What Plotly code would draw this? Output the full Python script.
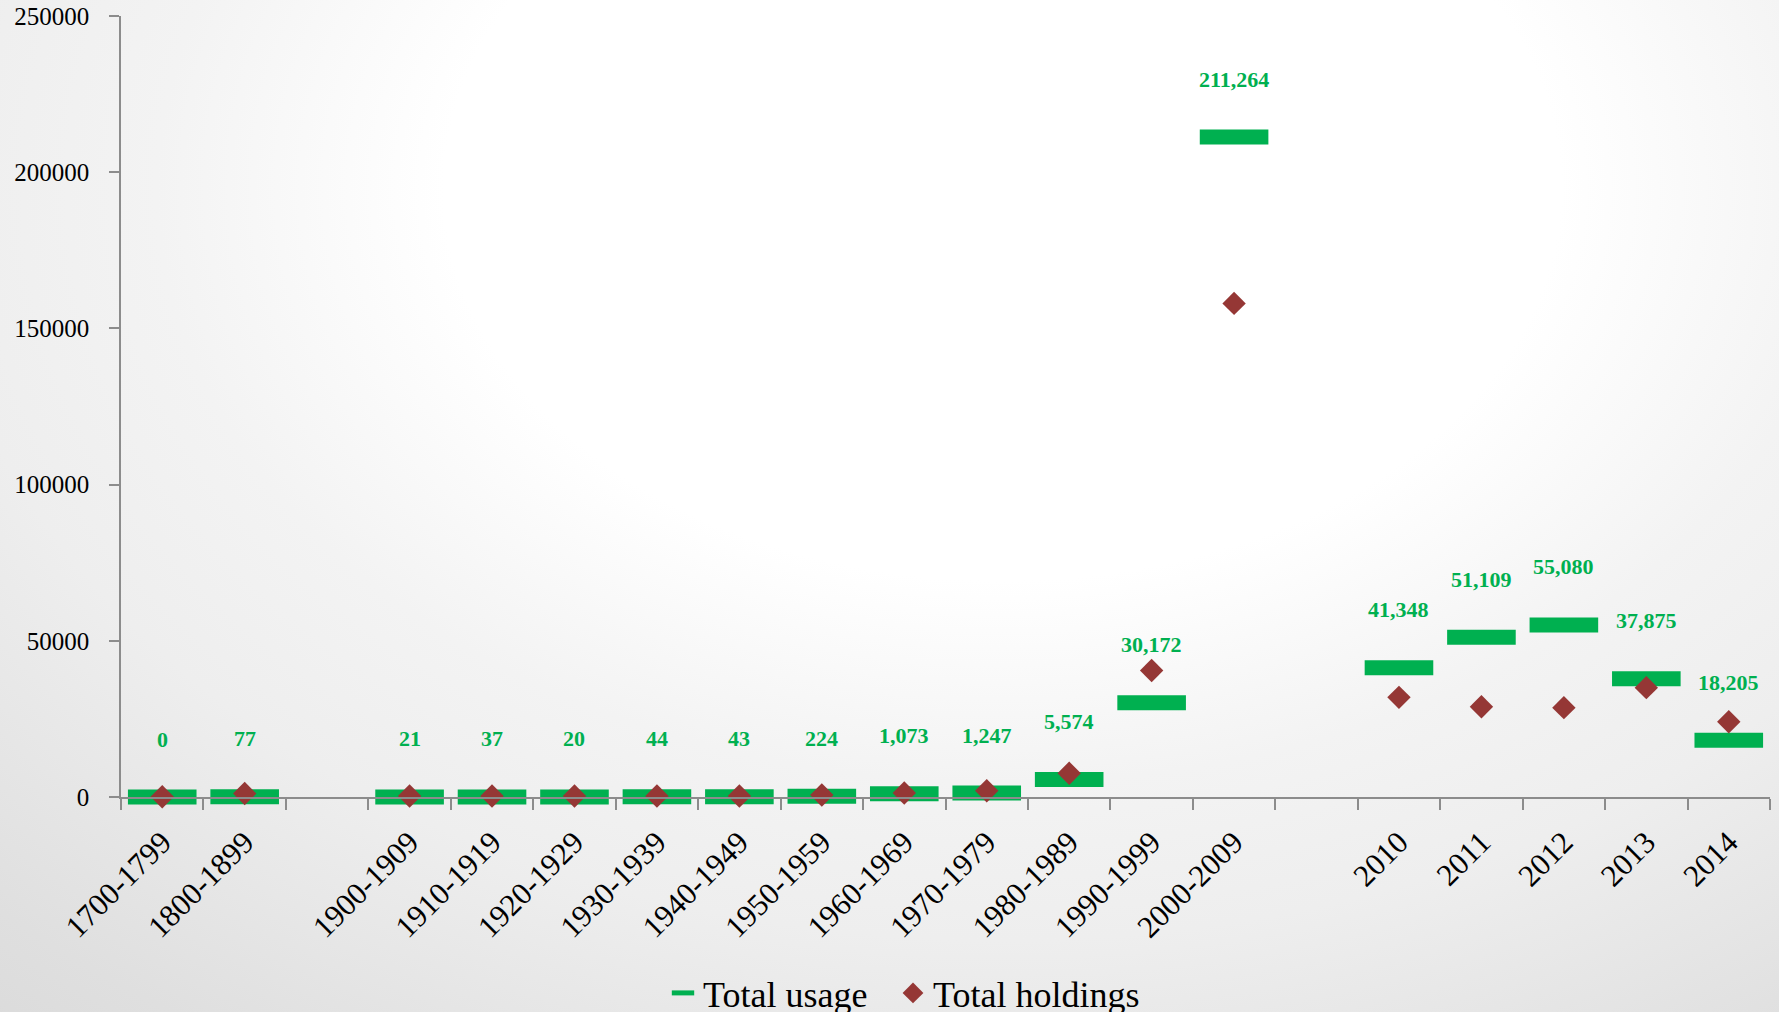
import base64
import plotly.graph_objects as go

# ---- data ----
categories = ["1700-1799", "1800-1899", " ", "1900-1909", "1910-1919", "1920-1929",
              "1930-1939", "1940-1949", "1950-1959", "1960-1969", "1970-1979",
              "1980-1989", "1990-1999", "2000-2009", "  ", "2010", "2011", "2012",
              "2013", "2014"]
total_usage = [0, 77, None, 21, 37, 20, 44, 43, 224, 1073, 1247, 5574, 30172, 211264,
               None, 41348, 51109, 55080, 37875, 18205]
total_holdings = [100, 1100, None, 300, 300, 300, 300, 300, 650, 1300, 2000, 7600, 40500,
                  158000, None, 31900, 28900, 28600, 35000, 24100]
y_ticks = [0, 50000, 100000, 150000, 200000, 250000]

# ---- style ----
W, H = 1779, 1012
ML, MR, MT, MB = 121, 9, 16, 215
PW, PH = W - ML - MR, H - MT - MB
GREEN = "#00B050"
RED = "#953735"
AXIS = "#8c8c8c"
FONT = "Liberation Serif"

svg = f'''<svg xmlns="http://www.w3.org/2000/svg" width="{W}" height="{H}" viewBox="0 0 {W} {H}" preserveAspectRatio="none">
<defs><radialGradient id="g" gradientUnits="userSpaceOnUse" cx="1000" cy="200" r="1560"
 gradientTransform="translate(1000,200) scale(1,0.692) translate(-1000,-200)">
<stop offset="0" stop-color="#ffffff"/><stop offset="0.35" stop-color="#ffffff"/>
<stop offset="0.53" stop-color="#f3f3f3"/><stop offset="0.67" stop-color="#eeeeee"/>
<stop offset="0.9" stop-color="#dfdfdf"/><stop offset="1" stop-color="#dadada"/>
</radialGradient></defs><rect x="-50" y="-50" width="{W + 100}" height="{H + 100}" fill="url(#g)"/></svg>'''
bg_src = "data:image/svg+xml;base64," + base64.b64encode(svg.encode()).decode()
PAD = 20

fig = go.Figure()
fig.add_trace(go.Scatter(
    x=categories, y=total_usage, name="Total usage", mode="markers",
    marker=dict(symbol="line-ew", size=49, color=GREEN,
                line=dict(color=GREEN, width=15)),
    cliponaxis=False, legend="legend",
))
fig.add_trace(go.Scatter(
    x=categories, y=total_holdings, name="Total holdings", mode="markers",
    marker=dict(symbol="diamond", size=18, color=RED, line=dict(width=0)),
    cliponaxis=False, legend="legend2",
))

for i, v in enumerate(total_usage):
    if v is None:
        continue
    fig.add_annotation(x=i, y=v, xref="x", yref="y", text=f"{v:,}", showarrow=False,
                       yshift=58,
                       font=dict(family=FONT, size=22, color=GREEN, weight="bold"))

LEG_Y = -(993 - (H - MB)) / PH
leg_common = dict(orientation="h", xanchor="left", y=LEG_Y, yanchor="middle",
                  font=dict(family=FONT, size=36, color="black"),
                  bgcolor="rgba(0,0,0,0)")

fig.update_layout(
    width=W, height=H,
    margin=dict(l=ML, r=MR, t=MT, b=MB, autoexpand=False),
    paper_bgcolor="#eeeeee", plot_bgcolor="rgba(0,0,0,0)",
    font=dict(family=FONT, color="black"),
    showlegend=True,
    legend=dict(x=(663 - ML) / PW, **leg_common),
    legend2=dict(x=(893 - ML) / PW, **leg_common),
    images=[dict(source=bg_src, xref="paper", yref="paper",
                 x=-(ML + PAD) / PW, y=1 + (MT + PAD) / PH,
                 sizex=(W + 2 * PAD) / PW, sizey=(H + 2 * PAD) / PH,
                 xanchor="left", yanchor="top", sizing="stretch", layer="below")],
)
fig.update_xaxes(
    type="category", categoryorder="array", categoryarray=categories,
    range=[-0.5, len(categories) - 0.5],
    tickson="boundaries", ticks="outside", ticklen=11, tickwidth=1.5, tickcolor=AXIS,
    showline=True, linecolor=AXIS, linewidth=1.5, showgrid=False, zeroline=False,
    tickangle=-45, tickfont=dict(family=FONT, size=31, color="black"),
    ticklabelstandoff=13,
)
fig.update_yaxes(
    range=[0, 250000], tickvals=y_ticks, tickformat="d",
    ticks="outside", ticklen=10, tickwidth=1.5, tickcolor=AXIS,
    showline=True, linecolor=AXIS, linewidth=1.5, showgrid=False, zeroline=False,
    tickfont=dict(family=FONT, size=25, color="black"), ticklabelstandoff=15,
    ticklabeloverflow="allow",
)

fig.write_html(
    "out.html",
    config={"displayModeBar": False},
    post_script="document.body.style.margin='0';document.body.style.overflow='hidden';",
)
